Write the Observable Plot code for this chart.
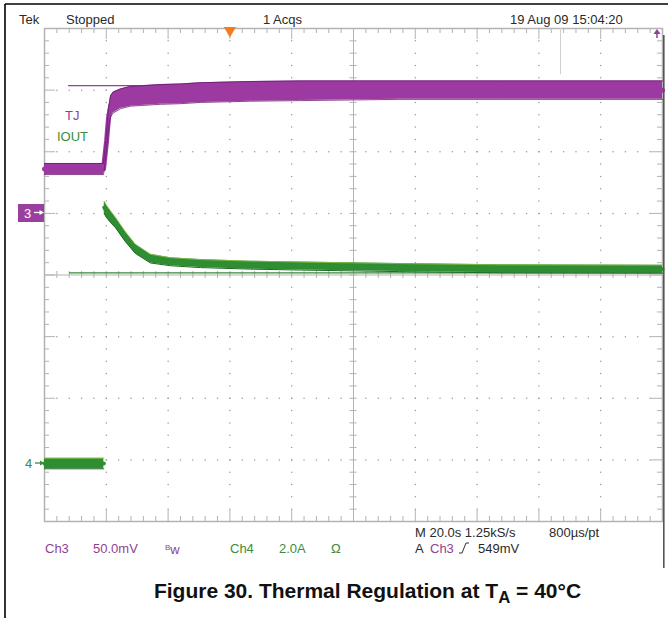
<!DOCTYPE html>
<html><head><meta charset="utf-8">
<script src="https://cdn.jsdelivr.net/npm/d3@7"></script>
<script src="https://cdn.jsdelivr.net/npm/@observablehq/plot@0.6"></script>
<style>
body{margin:0;background:#fff;}
#wrap{position:relative;width:668px;height:618px;overflow:hidden;background:#fff;font-family:"Liberation Sans",Arial,sans-serif;}
.t{position:absolute;font-size:13px;line-height:13px;white-space:nowrap;color:#2a2a2a;}
.p{color:#8f3f95;}
.g{color:#3d8c3d;}
#cap{position:absolute;left:367.5px;top:580px;transform:translateX(-50%);font-weight:bold;font-size:21px;line-height:21px;white-space:nowrap;color:#111;}
#cap sub{font-size:0.8em;vertical-align:-0.3em;line-height:0;}
</style></head><body><div id="wrap"></div>
<script>
// Channel settings
const ch3ScaleMv = 50;     // mV / div (TJ)
const ch3OffsetDiv = 5;    // "3" marker position, divisions from bottom
const ch4ScaleA = 2.0;     // A / div (IOUT)
const ch4OffsetDiv = 0.94; // "4" marker position
const timePerDiv = 20;     // s / div
const triggerTime = 60;    // s (orange marker)
const cursorTime = 167;    // s (thin grey line at top)
const stepTime = 19.3;     // s, where the charger starts

// TJ (Ch3) trace, mV relative to marker 3; band half-width in mV
const tjTime = [0, 19.1, 19.4, 20.1, 20.7, 21.4, 22.3, 24.6, 27.8, 31.1, 37.5, 44, 50.5, 66.7, 82.8, 115, 148, 200];
const tjMv   = [36, 36, 43, 59, 77, 87, 90, 93, 95, 95.5, 96.5, 97, 98, 99, 99.5, 100, 100, 100];
const tjHalf = [4.5, 4.5, 6, 7, 8, 8.5, 8.5, 8, 8, 8, 8, 8, 8, 8, 8, 7.5, 7.5, 7.5];
const tjRefMv = 103.6, tjRefStart = 7.8, tjRefEnd = 32;

// IOUT (Ch4) trace, A relative to marker 4; band half-width in A
const ioutTime = [0, 19.2, 19.35, 20.1, 21.4, 23.0, 26.2, 29.4, 34.3, 40.8, 50.5, 66.7, 82.8, 115, 148, 200];
const ioutA    = [0, 0, 8.31, 8.18, 8.01, 7.82, 7.36, 6.97, 6.65, 6.55, 6.49, 6.44, 6.41, 6.36, 6.32, 6.31];
const ioutHalf = [0.17, 0.17, 0.2, 0.2, 0.19, 0.17, 0.16, 0.15, 0.14, 0.13, 0.13, 0.13, 0.13, 0.13, 0.13, 0.13];
const ioutRefA = 6.19, ioutRefStart = 8.1;

const tjRows = tjTime.map((t, i) => ({
  t, y: ch3OffsetDiv + tjMv[i] / ch3ScaleMv,
  lo: ch3OffsetDiv + (tjMv[i] - tjHalf[i]) / ch3ScaleMv,
  hi: ch3OffsetDiv + (tjMv[i] + tjHalf[i]) / ch3ScaleMv
}));
const ioRows = ioutTime.map((t, i) => ({
  t, seg: t < stepTime ? "before" : "after",
  y: ch4OffsetDiv + ioutA[i] / ch4ScaleA,
  lo: ch4OffsetDiv + (ioutA[i] - ioutHalf[i]) / ch4ScaleA,
  hi: ch4OffsetDiv + (ioutA[i] + ioutHalf[i]) / ch4ScaleA
}));

// graticule
const nX = 10, nY = 8;
const xMax = nX * timePerDiv;
const minorX = d3.range(0, nX * 5 + 1).map(i => i * timePerDiv / 5);
const minorY = d3.range(0, nY * 5 + 1).map(i => i / 5);
const isMajX = v => Math.abs(v / timePerDiv - Math.round(v / timePerDiv)) < 1e-6;
const isMajY = v => Math.abs(v - Math.round(v)) < 1e-6;
const pxX = 61.8 / timePerDiv, pxY = 61.6;
const gridDots = [];
for (let j = 1; j < nY; j++) if (j !== nY / 2) minorX.forEach(t => gridDots.push({t, v: j}));
for (let i = 1; i < nX; i++) if (i !== nX / 2) minorY.forEach(v => gridDots.push({t: i * timePerDiv, v}));
const tickMinor = 5, tickMajor = 11, tickCenter = 3.5;

const gridCol = "#b3b3b3";
const purple = "#9d3aa2", purpleDark = "#6a1a70";
const green = "#2f8d32", greenDark = "#1d6a22", greenLight = "#8cc24a";

const plot = Plot.plot({
  width: 668, height: 570,
  marginLeft: 44, marginRight: 6, marginTop: 28, marginBottom: 49,
  x: {domain: [0, xMax], axis: null},
  y: {domain: [0, nY], axis: null},
  style: {background: "transparent", overflow: "visible"},
  marks: [
    Plot.dot(gridDots, {x: "t", y: "v", r: 0.75, fill: "#9a9a9a", stroke: null}),
    // centre lines
    Plot.ruleX([xMax / 2], {stroke: gridCol, strokeWidth: 1}),
    Plot.ruleY([nY / 2], {stroke: gridCol, strokeWidth: 1}),
    // edge ticks
    Plot.ruleX(minorX, {x: d => d, y1: nY, y2: d => nY - (isMajX(d) ? tickMajor : tickMinor) / pxY, stroke: gridCol}),
    Plot.ruleX(minorX, {x: d => d, y1: 0, y2: d => (isMajX(d) ? tickMajor : tickMinor) / pxY, stroke: gridCol}),
    Plot.ruleY(minorY, {y: d => d, x1: 0, x2: d => (isMajY(d) ? tickMajor : tickMinor) / pxX, stroke: gridCol}),
    Plot.ruleY(minorY, {y: d => d, x1: xMax, x2: d => xMax - (isMajY(d) ? tickMajor : tickMinor) / pxX, stroke: gridCol}),
    // centre-line ticks
    Plot.ruleX(minorX, {x: d => d, y1: nY / 2 - tickCenter / pxY, y2: nY / 2 + tickCenter / pxY, stroke: gridCol}),
    Plot.ruleY(minorY, {y: d => d, x1: xMax / 2 - tickCenter / pxX, x2: xMax / 2 + tickCenter / pxX, stroke: gridCol}),
    Plot.frame({stroke: gridCol, strokeWidth: 1.5}),
    Plot.ruleX([cursorTime], {y1: nY, y2: 7.25, stroke: "#cfcfcf"}),
    // reference lines
    Plot.ruleY([ch3OffsetDiv + tjRefMv / ch3ScaleMv], {x1: tjRefStart, x2: tjRefEnd, stroke: purple, strokeWidth: 1.2}),
    Plot.ruleY([ch4OffsetDiv + ioutRefA / ch4ScaleA], {x1: ioutRefStart, x2: xMax, stroke: green, strokeWidth: 1.2}),
    // IOUT trace (no sample drawn across the step)
    Plot.areaY(ioRows, {x: "t", y1: "lo", y2: "hi", z: "seg", fill: green}),
    Plot.line(ioRows, {x: "t", y: "y", z: "seg", stroke: green, strokeWidth: 4}),
    Plot.line(ioRows, {x: "t", y: "hi", z: "seg", stroke: greenLight, strokeWidth: 1, strokeOpacity: 0.8}),
    Plot.line(ioRows, {x: "t", y: "lo", z: "seg", stroke: greenDark, strokeWidth: 1}),
    // TJ trace
    Plot.areaY(tjRows, {x: "t", y1: "lo", y2: "hi", fill: purple}),
    Plot.line(tjRows, {x: "t", y: "y", stroke: purple, strokeWidth: 5}),
    Plot.line(tjRows, {x: "t", y: "hi", stroke: purpleDark, strokeWidth: 1, strokeOpacity: 0.8}),
    Plot.line(tjRows, {x: "t", y: "lo", stroke: purpleDark, strokeWidth: 1, strokeOpacity: 0.8}),
    // trigger marker
    Plot.dot([triggerTime], {x: d => d, y: nY, symbol: "triangle", rotate: 180, r: 4.5, fill: "#f47b20", stroke: null, dy: 2})
  ]
});
plot.style.position = "absolute";
plot.style.left = "0px";
plot.style.top = "0px";

const wrap = document.getElementById("wrap");
wrap.appendChild(plot);

const texts = [
  ["Tek", 19, 13, ""], ["Stopped", 66, 13, ""], ["1 Acqs", 263, 13, ""], ["19 Aug 09 15:04:20", 510, 13, ""],
  ["TJ", 65, 109, "p"], ["IOUT", 57, 130, "g"],
  ["Ch3", 45, 542, "p"], ["50.0mV", 93, 542, "p"], ["Ch4", 230, 542, "g"], ["2.0A", 279, 542, "g"], ["Ω", 331, 542, "g"],
  ["M 20.0s 1.25kS/s", 415, 526, ""], ["800µs/pt", 549, 526, ""],
  ["A", 415, 542, ""], ["Ch3", 430, 542, "p"], ["549mV", 478, 542, ""]
];
for (const [s, x, y, c] of texts) {
  const d = document.createElement("div");
  d.className = "t " + c;
  d.style.left = x + "px"; d.style.top = y + "px";
  d.textContent = s;
  wrap.appendChild(d);
}
// bandwidth symbol
const bw = document.createElement("div");
bw.className = "t p";
bw.style.left = "165px"; bw.style.top = "541px";
bw.innerHTML = '<span style="font-size:8px;vertical-align:4px">B</span><span>w</span>';
wrap.appendChild(bw);

const cap = document.createElement("div");
cap.id = "cap";
cap.innerHTML = "Figure 30. Thermal Regulation at T<sub>A</sub> = 40°C";
wrap.appendChild(cap);

// decorations: page frame, right edge, channel markers, rising-edge glyph, top-right arrow
const ns = "http://www.w3.org/2000/svg";
const deco = document.createElementNS(ns, "svg");
deco.setAttribute("width", 668); deco.setAttribute("height", 618);
deco.style.position = "absolute"; deco.style.left = "0"; deco.style.top = "0";
deco.innerHTML = `
 <line x1="5" y1="4" x2="5" y2="618" stroke="#000" stroke-width="1.6"/>
 <line x1="5" y1="4" x2="668" y2="4" stroke="#000" stroke-width="1.6"/>
 <line x1="663.8" y1="35" x2="663.8" y2="568" stroke="#555" stroke-width="1.6"/>
 <rect x="18" y="204" width="26" height="18" fill="#9b3f9e"/>
 <text x="24" y="218" font-family="Liberation Sans, Arial" font-size="13" fill="#fff">3</text>
 <line x1="34" y1="212.5" x2="42" y2="212.5" stroke="#fff" stroke-width="1.3"/>
 <path d="M44 212.5 L39.5 210 L39.5 215 Z" fill="#fff"/>
 <text x="25" y="468" font-family="Liberation Sans, Arial" font-size="13" fill="#3d8c3d">4</text>
 <line x1="35" y1="463" x2="42" y2="463" stroke="#3d8c3d" stroke-width="1.3"/>
 <path d="M44.5 463 L40 460.5 L40 465.5 Z" fill="#3d8c3d"/>
 <path d="M459 553 L462 553 L466 543 L469 543" fill="none" stroke="#333" stroke-width="1"/>
 <path d="M657 29 L653.5 34 L660.5 34 Z" fill="#8f3f95"/>
 <line x1="657" y1="33" x2="657" y2="38" stroke="#8f3f95" stroke-width="1.5"/>
`;
wrap.appendChild(deco);
</script>
</body></html>
